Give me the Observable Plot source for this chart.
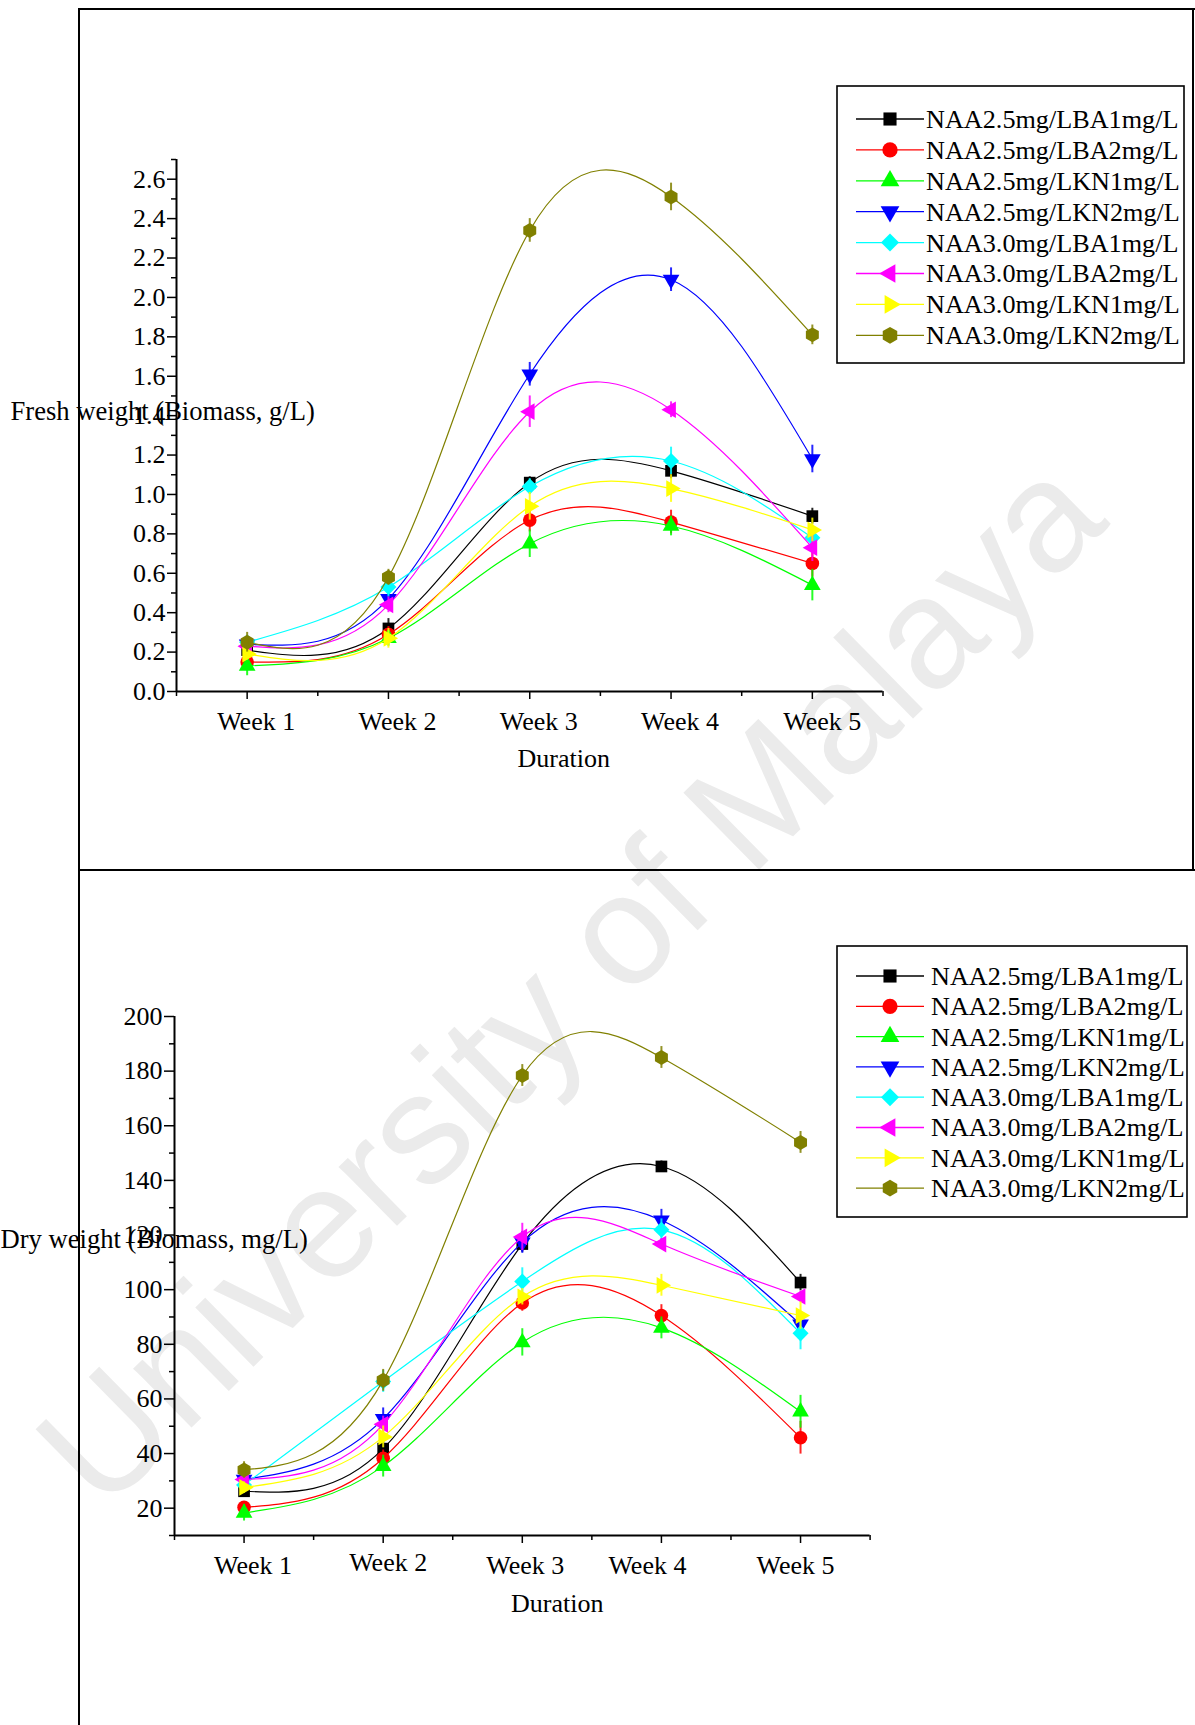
<!DOCTYPE html>
<html>
<head>
<meta charset="utf-8">
<script src="https://cdn.jsdelivr.net/npm/d3@7"></script>
<script src="https://cdn.jsdelivr.net/npm/@observablehq/plot@0.6"></script>
<style>
  html, body { margin: 0; padding: 0; background: #fff; }
  #page { position: relative; width: 1195px; height: 1725px; overflow: hidden; background: #fff;
          font-family: "Liberation Serif", "Times New Roman", serif; }
  .wm { position: absolute; white-space: nowrap; color: #ebebeb; font-family: "Liberation Sans", Arial, sans-serif;
        line-height: 1; transform-origin: center center; }
  .line { position: absolute; background: #000; }
  .chart { position: absolute; left: 0; }
  .legend { position: absolute; overflow: visible; }
</style>
</head>
<body>
<div id="page">
  <div class="wm" id="wm">University of Malaya</div>
  <div class="line" style="left:78px; top:8px; width:2px; height:1717px;"></div>
  <div class="line" style="left:78px; top:8px; width:1117px; height:2px;"></div>
  <div class="line" style="left:78px; top:869px; width:1117px; height:2px;"></div>
  <div class="line" style="left:1192px; top:8px; width:2px; height:862px;"></div>
</div>
<script>
// ---------------- DATA ----------------
const weeks = [1, 2, 3, 4, 5];
const weekLabels = ["Week 1", "Week 2", "Week 3", "Week 4", "Week 5"];
const seriesNames = [
  "NAA2.5mg/LBA1mg/L",
  "NAA2.5mg/LBA2mg/L",
  "NAA2.5mg/LKN1mg/L",
  "NAA2.5mg/LKN2mg/L",
  "NAA3.0mg/LBA1mg/L",
  "NAA3.0mg/LBA2mg/L",
  "NAA3.0mg/LKN1mg/L",
  "NAA3.0mg/LKN2mg/L"
];
// Fresh weight (g/L), one row per series, Week 1..5
const freshMeans = [
  [0.21, 0.32, 1.06, 1.12, 0.89],
  [0.15, 0.29, 0.87, 0.86, 0.65],
  [0.13, 0.27, 0.75, 0.84, 0.54],
  [0.24, 0.47, 1.61, 2.09, 1.18],
  [0.25, 0.53, 1.04, 1.17, 0.78],
  [0.23, 0.44, 1.42, 1.43, 0.73],
  [0.19, 0.27, 0.94, 1.03, 0.82],
  [0.25, 0.58, 2.34, 2.51, 1.81]
];
const freshErr = [
  [0.03, 0.05, 0.03, 0.04, 0.04],
  [0.03, 0.04, 0.06, 0.06, 0.07],
  [0.05, 0.04, 0.07, 0.05, 0.08],
  [0.03, 0.04, 0.06, 0.06, 0.07],
  [0.03, 0.05, 0.04, 0.07, 0.05],
  [0.03, 0.04, 0.08, 0.04, 0.07],
  [0.03, 0.05, 0.07, 0.07, 0.06],
  [0.05, 0.04, 0.06, 0.07, 0.05]
];
// Dry weight (mg/L)
const dryMeans = [
  [26.2, 41.8, 116.7, 145.1, 102.6],
  [20.3, 38.3, 95.1, 90.5, 45.8],
  [18.3, 35.4, 80.7, 86.0, 55.3],
  [30.5, 52.7, 117.3, 125.4, 87.3],
  [28.5, 66.4, 103.0, 121.9, 84.0],
  [30.5, 50.7, 119.3, 116.7, 97.5],
  [27.6, 46.1, 97.4, 101.6, 90.5],
  [34.0, 66.8, 178.4, 185.0, 153.9]
];
const dryErr = [
  [2, 3, 3, 2, 3],
  [2, 3, 3, 4, 6],
  [3, 4, 5, 4, 6],
  [2, 4, 4, 4, 3],
  [2, 4, 5, 4, 6],
  [2, 3, 5, 2, 2],
  [2, 4, 3, 4, 5],
  [3, 4, 4, 4, 4]
];
const freshTicks = [0.0, 0.2, 0.4, 0.6, 0.8, 1.0, 1.2, 1.4, 1.6, 1.8, 2.0, 2.2, 2.4, 2.6];
const dryTicks = [20, 40, 60, 80, 100, 120, 140, 160, 180, 200];

// ---------------- STYLE ----------------
const colors = ["#000000", "#ff0000", "#00ff00", "#0000ff", "#00ffff", "#ff00ff", "#ffff00", "#808000"];
const FONT = '"Liberation Serif", "Times New Roman", serif';

function tri(angle) {
  return {
    draw(ctx, size) {
      const a = Math.sqrt(4 * size / Math.sqrt(3)), h = a * Math.sqrt(3) / 2;
      const pts = [[0, -2 * h / 3], [a / 2, h / 3], [-a / 2, h / 3]];
      const c = Math.cos(angle), s = Math.sin(angle);
      pts.forEach(([x, y], i) => {
        const X = x * c - y * s, Y = x * s + y * c;
        i ? ctx.lineTo(X, Y) : ctx.moveTo(X, Y);
      });
      ctx.closePath();
    }
  };
}
const diamond = {
  draw(ctx, size) {
    const r = Math.sqrt(size / 2);
    ctx.moveTo(0, -r); ctx.lineTo(r, 0); ctx.lineTo(0, r); ctx.lineTo(-r, 0); ctx.closePath();
  }
};
const hexagon = {
  draw(ctx, size) {
    const s = Math.sqrt(2 * size / (3 * Math.sqrt(3)));
    for (let i = 0; i < 6; i++) {
      const t = Math.PI / 6 + i * Math.PI / 3;
      const x = s * Math.cos(t), y = s * Math.sin(t);
      i ? ctx.lineTo(x, y) : ctx.moveTo(x, y);
    }
    ctx.closePath();
  }
};
const symbols = [d3.symbolSquare, d3.symbolCircle, tri(0), tri(Math.PI), diamond, tri(-Math.PI / 2), tri(Math.PI / 2), hexagon];
const symbolR = [6.6, 6.8, 6.2, 6.2, 6.4, 6.2, 6.2, 6.8];
const legendScale = 1.12;

function buildChart(cfg) {
  const rows = [];
  seriesNames.forEach((name, s) => weeks.forEach((w, i) =>
    rows.push({s, name, week: w, value: cfg.means[s][i], err: cfg.errs[s][i]})));
  const [y0, y1] = cfg.yDomain;
  const marks = [
    Plot.ruleX([0.5], {y1: y0, y2: y1, strokeWidth: 2}),
    Plot.ruleY([y0], {x1: 0.5, x2: 5.5, strokeWidth: 2}),
    Plot.axisY({ticks: cfg.yTicks, tickSize: cfg.tickSizeY, tickPadding: 2, tickFormat: cfg.yFormat, label: null, strokeWidth: 1.5}),
    Plot.axisY({ticks: cfg.yMinor, tickSize: 5, tickFormat: () => "", label: null, strokeWidth: 1.5}),
    Plot.axisX({ticks: weeks, tickSize: 8, tickFormat: () => "", label: null, strokeWidth: 1.5}),
    Plot.axisX({ticks: [0.5, 1.5, 2.5, 3.5, 4.5, 5.5], tickSize: 5, tickFormat: () => "", label: null, strokeWidth: 1.5})
  ];
  weeks.forEach((w, i) => {
    marks.push(Plot.text([w], {x: d => d, y: () => y0, text: d => weekLabels[d - 1],
      dy: 30 + cfg.weekDy[i], dx: cfg.weekDx[i], fill: "#000"}));
  });
  marks.push(Plot.text(["Duration"], {frameAnchor: "bottom", lineAnchor: "middle", dx: cfg.durDx, dy: cfg.durDy, fill: "#000"}));
  seriesNames.forEach((name, s) => {
    const d = rows.filter(r => r.s === s);
    marks.push(Plot.line(d, {x: "week", y: "value", curve: "natural", stroke: colors[s], strokeWidth: 1.2}));
    marks.push(Plot.dot(d, {x: "week", y: "value", symbol: symbols[s], r: symbolR[s], fill: colors[s], stroke: "none"}));
    marks.push(Plot.ruleX(d, {x: "week", y1: r => r.value - r.err, y2: r => r.value + r.err,
      stroke: colors[s], strokeWidth: 2, strokeOpacity: 0.85}));
  });
  marks.push(Plot.text([cfg.yLabel], {frameAnchor: "left", textAnchor: "start", lineAnchor: "middle", dx: cfg.labelDx, dy: cfg.labelDy,
    fontSize: 26.6, fill: "#000"}));
  const svg = Plot.plot({
    width: 1195, height: cfg.height,
    marginTop: cfg.mt, marginBottom: cfg.mb, marginLeft: cfg.ml, marginRight: cfg.mr,
    x: {type: "linear", domain: [0.5, 5.5]},
    y: {type: "linear", domain: cfg.yDomain},
    style: {fontFamily: FONT, fontSize: "26px", background: "transparent", overflow: "visible", color: "#000"},
    marks
  });
  svg.classList.add("chart");
  svg.style.top = cfg.top + "px";
  return svg;
}

function buildLegend(box) {
  const svg = d3.create("svg").attr("class", "legend")
    .attr("width", box.w + 4).attr("height", box.h + 4)
    .style("left", (box.x - 2) + "px").style("top", (box.y - 2) + "px");
  svg.append("rect").attr("x", 2).attr("y", 2).attr("width", box.w).attr("height", box.h)
    .attr("fill", "none").attr("stroke", "#000").attr("stroke-width", 1.6);
  seriesNames.forEach((name, s) => {
    const cy = 2 + box.first + s * box.step;
    const g = svg.append("g");
    g.append("line").attr("x1", 2 + 19).attr("x2", 2 + 87).attr("y1", cy).attr("y2", cy)
      .attr("stroke", colors[s]).attr("stroke-width", 1.3);
    const rr = symbolR[s] * legendScale;
    g.append("path").attr("transform", `translate(${2 + 53},${cy})`)
      .attr("d", d3.symbol(symbols[s], rr * rr * Math.PI)()).attr("fill", colors[s]);
    g.append("text").attr("x", 2 + box.textX).attr("y", cy).attr("dy", "0.34em")
      .attr("font-family", FONT).attr("font-size", 26.2).attr("fill", "#000").text(name);
  });
  return svg.node();
}

const page = document.getElementById("page");

page.appendChild(buildChart({
  means: freshMeans, errs: freshErr, yDomain: [0, 2.7], yTicks: freshTicks,
  yMinor: [0.1, 0.3, 0.5, 0.7, 0.9, 1.1, 1.3, 1.5, 1.7, 1.9, 2.1, 2.3, 2.5, 2.7],
  yFormat: d3.format(".1f"), tickSizeY: 9,
  yLabel: "Fresh weight (Biomass, g/L)", labelDx: -166, labelDy: -14,
  height: 870, top: 0, mt: 159, mb: 179, ml: 176, mr: 312.5,
  weekDx: [9, 9, 9, 9, 10], weekDy: [0, 0, 0, 0, 0], durDx: 34, durDy: 67
}));

page.appendChild(buildChart({
  means: dryMeans, errs: dryErr, yDomain: [10, 200], yTicks: dryTicks,
  yMinor: [10, 30, 50, 70, 90, 110, 130, 150, 170, 190],
  yFormat: d3.format("d"), tickSizeY: 10,
  yLabel: "Dry weight (Biomass, mg/L)", labelDx: -174, labelDy: -36.5,
  height: 855, top: 870, mt: 146, mb: 190, ml: 174, mr: 325.4,
  weekDx: [9, 5, 3, -14, -5], weekDy: [0, -3, 0, 0, 0], durDx: 35, durDy: 68
}));

page.appendChild(buildLegend({x: 837, y: 86, w: 347, h: 277, first: 33, step: 30.9, textX: 89}));
page.appendChild(buildLegend({x: 837, y: 946, w: 350, h: 271, first: 30, step: 30.3, textX: 94}));

// watermark placement
const wm = document.getElementById("wm");
wm.style.fontSize = "157px";
const wmW = wm.offsetWidth, wmH = wm.offsetHeight;
wm.style.left = (568 - wmW / 2) + "px";
wm.style.top = (980 - wmH / 2) + "px";
wm.style.transform = "rotate(-44.5deg)";
</script>
</body>
</html>
